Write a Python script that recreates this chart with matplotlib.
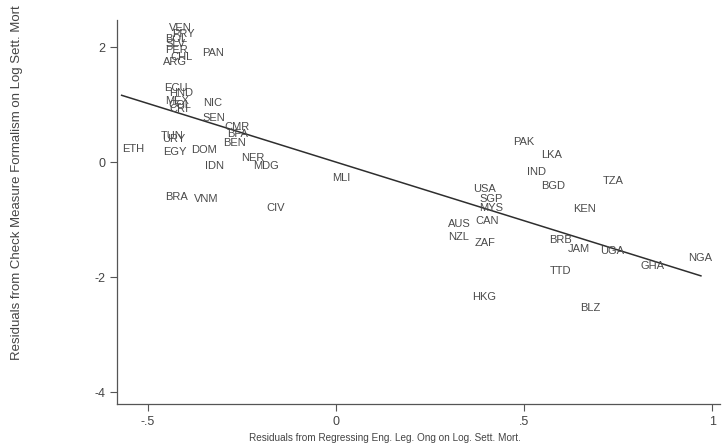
import matplotlib
matplotlib.use("Agg")
import matplotlib.pyplot as plt
import numpy as np

plt.rcParams['font.family'] = ['Liberation Sans', 'DejaVu Sans']

codes = ["VEN", "PRY", "BOL", "SLV", "PER", "CHL", "ARG", "PAN",
         "ECU", "HND", "MEX", "COL", "CRI", "NIC", "SEN", "CMR", "BFA", "BEN",
         "TUN", "URY", "ETH", "EGY", "DOM", "IDN", "NER", "MDG", "MLI",
         "BRA", "VNM", "CIV",
         "PAK", "LKA", "IND", "BGD", "TZA", "USA", "SGP", "MYS", "KEN",
         "AUS", "CAN", "NZL", "ZAF", "BRB", "JAM", "UGA", "GHA", "NGA",
         "TTD", "HKG", "BLZ"]
x_resid = [-0.415, -0.407, -0.426, -0.426, -0.423, -0.410, -0.428, -0.327,
           -0.426, -0.412, -0.423, -0.415, -0.418, -0.327, -0.324, -0.263, -0.261, -0.269,
           -0.436, -0.431, -0.540, -0.428, -0.351, -0.322, -0.221, -0.186, 0.013,
           -0.423, -0.346, -0.160,
           0.500, 0.574, 0.532, 0.577, 0.737, 0.394, 0.412, 0.412, 0.660,
           0.327, 0.402, 0.327, 0.396, 0.598, 0.646, 0.734, 0.840, 0.968,
           0.598, 0.394, 0.676]
y_resid = [2.33, 2.23, 2.14, 2.05, 1.95, 1.83, 1.74, 1.90,
           1.29, 1.20, 1.06, 0.99, 0.93, 1.03, 0.77, 0.61, 0.49, 0.33,
           0.45, 0.40, 0.23, 0.17, 0.21, -0.07, 0.07, -0.07, -0.28,
           -0.61, -0.64, -0.80,
           0.35, 0.12, -0.17, -0.42, -0.33, -0.47, -0.64, -0.80, -0.82,
           -1.08, -1.03, -1.30, -1.41, -1.36, -1.51, -1.55, -1.81, -1.67,
           -1.90, -2.35, -2.54]

fit_slope = -2.04
fit_intercept = 0.0
fit_x = [-0.57, 0.97]

x_ticks = [-0.5, 0, 0.5, 1]
x_ticklabels = ["-.5", "0", ".5", "1"]
y_ticks = [-4, -2, 0, 2]
y_ticklabels = ["-4", "-2", "0", "2"]

fig = plt.figure(figsize=(7.23, 4.48), dpi=100)
ax = fig.add_axes([0.162, 0.098, 0.834, 0.857])

txtcol = "#4a4a4a"
for c, xv, yv in zip(codes, x_resid, y_resid):
    ax.text(xv, yv, c, fontsize=8, color=txtcol, ha="center", va="center")

fx = np.array(fit_x)
ax.plot(fx, fit_intercept + fit_slope * fx, color="#2e2e2e", lw=1.1)

ax.set_xlim(-0.582, 1.021)
ax.set_ylim(-4.21, 2.47)
ax.set_xticks(x_ticks)
ax.set_xticklabels(x_ticklabels)
ax.set_yticks(y_ticks)
ax.set_yticklabels(y_ticklabels)
for s in ["top", "right"]:
    ax.spines[s].set_visible(False)
for s in ["left", "bottom"]:
    ax.spines[s].set_color("#555555")
    ax.spines[s].set_linewidth(0.9)
ax.tick_params(axis="both", direction="out", length=5, width=0.8, colors="#555555",
               labelsize=9, labelcolor="#444444")
ax.set_xlabel("Residuals from Regressing Eng. Leg. Ong on Log. Sett. Mort.",
              fontsize=7.2, color="#444444")
ax.xaxis.set_label_coords(0.444, -0.075)
ax.set_ylabel("Residuals from Check Measure Formalism on Log Sett. Mort",
              fontsize=9.5, color="#444444")
ax.yaxis.set_label_coords(-0.156, 0.578)

fig.savefig("out.png", dpi=100, facecolor="white")
